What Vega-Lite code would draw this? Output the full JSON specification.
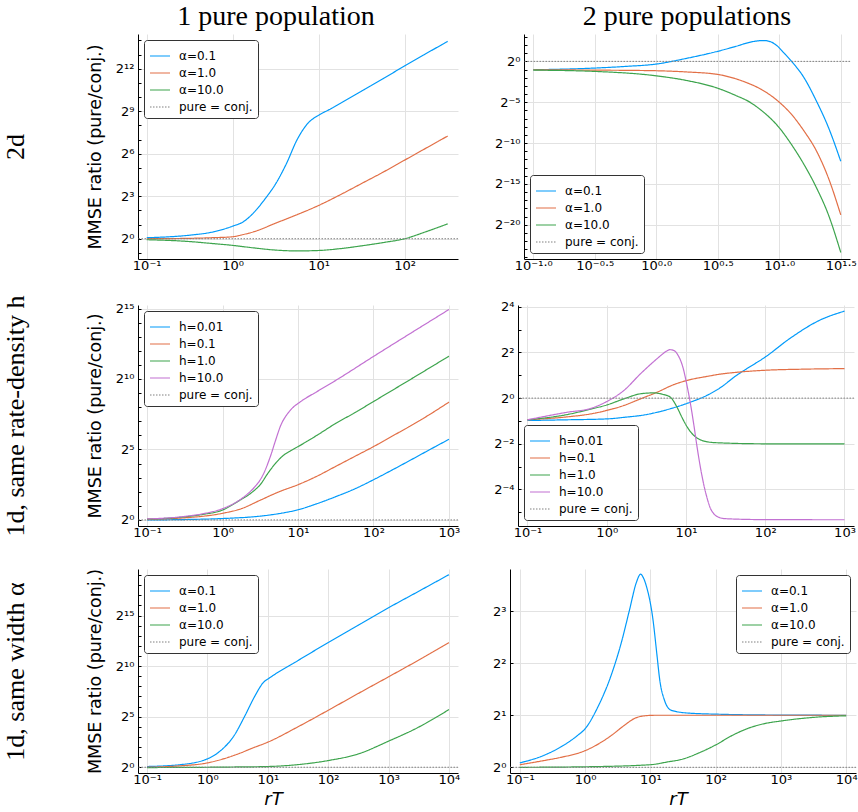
{
 "$schema": "https://vega.github.io/schema/vega-lite/v6.json",
 "background": "white",
 "padding": {"left": 2, "top": 3, "right": 0, "bottom": 0},
 "config": {
  "view": {"stroke": null},
  "axis": {"domainColor": "#000", "domainWidth": 1, "ticks": false, "labelFont": "DejaVu Sans", "labelFontSize": 13, "labelColor": "#000", "labelPadding": 4, "labelFlush": false, "labelOverlap": false, "gridColor": "#e2e2e2", "gridWidth": 1, "titleFont": "DejaVu Sans", "titleFontWeight": "normal", "titleColor": "#000"},
  "axisX": {"labelPadding": 0},
  "legend": {"symbolType": "stroke", "symbolSize": 400, "symbolStrokeWidth": 1.5, "labelFont": "DejaVu Sans", "labelFontSize": 12, "labelColor": "#000", "strokeColor": "#333", "fillColor": "#fff", "padding": 5, "cornerRadius": 3, "offset": 6, "rowPadding": -11, "labelOffset": 8},
  "title": {"font": "Liberation Serif", "fontSize": 28, "fontWeight": "normal", "color": "#000", "offset": 3},
  "line": {"strokeWidth": 1.2, "interpolate": "monotone"}
 },
 "spacing": 22,
 "resolve": {"scale": {"color": "independent", "strokeDash": "independent"}, "legend": {"color": "independent", "strokeDash": "independent"}},
 "vconcat": [
  {
   "spacing": 31,
   "resolve": {"scale": {"color": "independent", "strokeDash": "independent"}, "legend": {"color": "independent", "strokeDash": "independent"}},
   "hconcat": [
    {
     "name": "p1",
     "width": 320, "height": 225,
     "title": {"text": "1 pure population", "frame": "group", "dx": -22},
     "resolve": {"axis": {"y": "independent"}},
     "layer": [
      {
       "data": {"values": [
        {"s":"α=0.1","x":0.1,"y":1.05},{"s":"α=0.1","x":0.3162,"y":1.19},{"s":"α=0.1","x":0.5623,"y":1.37},{"s":"α=0.1","x":1,"y":1.85},{"s":"α=0.1","x":1.334,"y":2.30},{"s":"α=0.1","x":1.778,"y":3.66},{"s":"α=0.1","x":2.371,"y":6.96},{"s":"α=0.1","x":3.162,"y":14.7},{"s":"α=0.1","x":4.217,"y":39.4},{"s":"α=0.1","x":5.623,"y":128},{"s":"α=0.1","x":7.499,"y":284},{"s":"α=0.1","x":10,"y":422},{"s":"α=0.1","x":13.34,"y":557},{"s":"α=0.1","x":17.78,"y":750},{"s":"α=0.1","x":31.62,"y":1370},{"s":"α=0.1","x":56.23,"y":2521},{"s":"α=0.1","x":100,"y":4706},{"s":"α=0.1","x":177.8,"y":8602},{"s":"α=0.1","x":316.2,"y":15606},
        {"s":"α=1.0","x":0.1,"y":1.0},{"s":"α=1.0","x":0.3162,"y":1.02},{"s":"α=1.0","x":0.5623,"y":1.05},{"s":"α=1.0","x":1,"y":1.102},{"s":"α=1.0","x":1.334,"y":1.231},{"s":"α=1.0","x":1.778,"y":1.414},{"s":"α=1.0","x":3.162,"y":2.144},{"s":"α=1.0","x":5.623,"y":3.249},{"s":"α=1.0","x":10,"y":5.10},{"s":"α=1.0","x":17.78,"y":8.57},{"s":"α=1.0","x":31.62,"y":14.93},{"s":"α=1.0","x":56.23,"y":26.0},{"s":"α=1.0","x":100,"y":46.85},{"s":"α=1.0","x":177.8,"y":84.4},{"s":"α=1.0","x":316.2,"y":152.2},
        {"s":"α=10.0","x":0.1,"y":0.953},{"s":"α=10.0","x":0.3162,"y":0.871},{"s":"α=10.0","x":0.5623,"y":0.795},{"s":"α=10.0","x":1,"y":0.722},{"s":"α=10.0","x":1.778,"y":0.637},{"s":"α=10.0","x":3.162,"y":0.574},{"s":"α=10.0","x":5.623,"y":0.551},{"s":"α=10.0","x":10,"y":0.563},{"s":"α=10.0","x":17.78,"y":0.616},{"s":"α=10.0","x":31.62,"y":0.707},{"s":"α=10.0","x":56.23,"y":0.829},{"s":"α=10.0","x":100,"y":1.0},{"s":"α=10.0","x":177.8,"y":1.414},{"s":"α=10.0","x":316.2,"y":2.07}
       ]},
       "mark": "line",
       "encoding": {
        "x": {"field": "x", "type": "quantitative", "scale": {"type": "log", "base": 10, "domain": [0.0793, 416.9], "nice": false}, "axis": {"title": null, "values": [0.1, 1, 10, 100], "labelExpr": "'10'+replace(replace(replace(replace(replace(replace(replace(replace(replace(replace(replace(replace(format(round(log(datum.value)/LN10),'d'),regexp('[-−]','g'),'⁻'),regexp('0','g'),'⁰'),regexp('1','g'),'¹'),regexp('2','g'),'²'),regexp('3','g'),'³'),regexp('4','g'),'⁴'),regexp('5','g'),'⁵'),regexp('6','g'),'⁶'),regexp('7','g'),'⁷'),regexp('8','g'),'⁸'),regexp('9','g'),'⁹'),regexp('[.]','g'),'·')"}},
        "y": {"field": "y", "type": "quantitative", "scale": {"type": "log", "base": 2, "domain": [0.371, 22381], "nice": false}, "axis": {"orient": "left", "title": "MMSE ratio (pure/conj.)", "titleFontSize": 17.5, "titlePadding": 11, "values": [1, 8, 64, 512, 4096], "labelExpr": "'2'+replace(replace(replace(replace(replace(replace(replace(replace(replace(replace(replace(replace(format(round(log(datum.value)/LN2),'d'),regexp('[-−]','g'),'⁻'),regexp('0','g'),'⁰'),regexp('1','g'),'¹'),regexp('2','g'),'²'),regexp('3','g'),'³'),regexp('4','g'),'⁴'),regexp('5','g'),'⁵'),regexp('6','g'),'⁶'),regexp('7','g'),'⁷'),regexp('8','g'),'⁸'),regexp('9','g'),'⁹'),regexp('[.]','g'),'·')"}},
        "color": {"field": "s", "type": "nominal", "scale": {"domain": ["α=0.1", "α=1.0", "α=10.0", "pure = conj."], "range": ["#009afa", "#e26f46", "#3da44d", "#808080"]}, "legend": {"title": null, "orient": "top-left"}},
        "strokeDash": {"field": "s", "type": "nominal", "scale": {"domain": ["α=0.1", "α=1.0", "α=10.0", "pure = conj."], "range": [[1, 0], [1, 0], [1, 0], [1.5, 1.5]]}, "legend": {"title": null, "orient": "top-left"}}
       }
      },
      {
       "data": {"values": [{"s": "pure = conj.", "y": 1}]},
       "mark": {"type": "rule", "strokeWidth": 1},
       "encoding": {"y": {"field": "y", "type": "quantitative", "axis": {"orient": "left", "title": "2d", "titleFont": "Liberation Serif", "titleFontSize": 26, "titleFontWeight": "normal", "titlePadding": 109, "minExtent": 0, "labels": false, "ticks": true, "tickSize": -3, "tickColor": "#000", "values": [0.5, 1, 2, 4, 8, 16, 32, 64, 128, 256, 512, 1024, 2048, 4096, 8192, 16384], "domain": false, "grid": false}}, "color": {"field": "s", "type": "nominal"}, "strokeDash": {"field": "s", "type": "nominal"}}
      }
     ]
    },
    {
     "name": "p2",
     "width": 326, "height": 225,
     "title": {"text": "2 pure populations"},
     "resolve": {"axis": {"y": "independent"}},
     "layer": [
      {
       "data": {"values": [
        {"s":"α=0.1","x":0.1,"y":0.490},{"s":"α=0.1","x":0.3162,"y":0.566},{"s":"α=0.1","x":0.5623,"y":0.651},{"s":"α=0.1","x":1,"y":0.796},{"s":"α=0.1","x":1.778,"y":1.301},{"s":"α=0.1","x":3.162,"y":2.35},{"s":"α=0.1","x":4.467,"y":3.61},{"s":"α=0.1","x":5.623,"y":4.92},{"s":"α=0.1","x":6.607,"y":5.66},{"s":"α=0.1","x":7.499,"y":5.86},{"s":"α=0.1","x":8.511,"y":5.28},{"s":"α=0.1","x":9.550,"y":3.81},{"s":"α=0.1","x":10.96,"y":2.0},{"s":"α=0.1","x":12.59,"y":1.0},{"s":"α=0.1","x":15.85,"y":0.255},{"s":"α=0.1","x":19.95,"y":0.0359},{"s":"α=0.1","x":25.12,"y":0.00364},{"s":"α=0.1","x":31.62,"y":0.000207},
        {"s":"α=1.0","x":0.1,"y":0.490},{"s":"α=1.0","x":0.3162,"y":0.476},{"s":"α=1.0","x":1,"y":0.451},{"s":"α=1.0","x":1.778,"y":0.406},{"s":"α=1.0","x":3.162,"y":0.330},{"s":"α=1.0","x":4.467,"y":0.225},{"s":"α=1.0","x":5.623,"y":0.154},{"s":"α=1.0","x":7.079,"y":0.0947},{"s":"α=1.0","x":10,"y":0.03125},{"s":"α=1.0","x":12.59,"y":0.01105},{"s":"α=1.0","x":15.85,"y":0.00276},{"s":"α=1.0","x":19.95,"y":0.000523},{"s":"α=1.0","x":25.12,"y":0.0000496},{"s":"α=1.0","x":31.62,"y":0.00000219},
        {"s":"α=10.0","x":0.1,"y":0.476},{"s":"α=10.0","x":0.3162,"y":0.426},{"s":"α=10.0","x":1,"y":0.293},{"s":"α=10.0","x":1.778,"y":0.196},{"s":"α=10.0","x":3.162,"y":0.102},{"s":"α=10.0","x":4.467,"y":0.0544},{"s":"α=10.0","x":5.623,"y":0.0335},{"s":"α=10.0","x":7.079,"y":0.01617},{"s":"α=10.0","x":10,"y":0.00357},{"s":"α=10.0","x":12.59,"y":0.00085},{"s":"α=10.0","x":15.85,"y":0.000161},{"s":"α=10.0","x":19.95,"y":0.0000231},{"s":"α=10.0","x":25.12,"y":0.00000219},{"s":"α=10.0","x":31.62,"y":0.0000000903}
       ]},
       "mark": "line",
       "encoding": {
        "x": {"field": "x", "type": "quantitative", "scale": {"type": "log", "base": 10, "domain": [0.0841, 37.58], "nice": false}, "axis": {"title": null, "values": [0.1, 0.31622776601683794, 1, 3.1622776601683795, 10, 31.622776601683793], "labelExpr": "'10'+replace(replace(replace(replace(replace(replace(replace(replace(replace(replace(replace(replace(format(round(log(datum.value)/LN10*10)/10,'.1f'),regexp('[-−]','g'),'⁻'),regexp('0','g'),'⁰'),regexp('1','g'),'¹'),regexp('2','g'),'²'),regexp('3','g'),'³'),regexp('4','g'),'⁴'),regexp('5','g'),'⁵'),regexp('6','g'),'⁶'),regexp('7','g'),'⁷'),regexp('8','g'),'⁸'),regexp('9','g'),'⁹'),regexp('[.]','g'),'·')"}},
        "y": {"field": "y", "type": "quantitative", "scale": {"type": "log", "base": 2, "domain": [5.19e-8, 10.2], "nice": false}, "axis": {"orient": "left", "title": null, "minExtent": 34, "values": [1, 0.03125, 0.0009765625, 3.0517578125e-05, 9.5367431640625e-07], "labelExpr": "'2'+replace(replace(replace(replace(replace(replace(replace(replace(replace(replace(replace(replace(format(round(log(datum.value)/LN2),'d'),regexp('[-−]','g'),'⁻'),regexp('0','g'),'⁰'),regexp('1','g'),'¹'),regexp('2','g'),'²'),regexp('3','g'),'³'),regexp('4','g'),'⁴'),regexp('5','g'),'⁵'),regexp('6','g'),'⁶'),regexp('7','g'),'⁷'),regexp('8','g'),'⁸'),regexp('9','g'),'⁹'),regexp('[.]','g'),'·')"}},
        "color": {"field": "s", "type": "nominal", "scale": {"domain": ["α=0.1", "α=1.0", "α=10.0", "pure = conj."], "range": ["#009afa", "#e26f46", "#3da44d", "#808080"]}, "legend": {"title": null, "orient": "bottom-left"}},
        "strokeDash": {"field": "s", "type": "nominal", "scale": {"domain": ["α=0.1", "α=1.0", "α=10.0", "pure = conj."], "range": [[1, 0], [1, 0], [1, 0], [1.5, 1.5]]}, "legend": {"title": null, "orient": "bottom-left"}}
       }
      },
      {
       "data": {"values": [{"s": "pure = conj.", "y": 1}]},
       "mark": {"type": "rule", "strokeWidth": 1},
       "encoding": {"y": {"field": "y", "type": "quantitative", "axis": {"orient": "left", "title": null, "minExtent": 0, "labels": false, "ticks": true, "tickSize": -3, "tickColor": "#000", "values": [5.9604644775390625e-8, 1.1920928955078125e-7, 2.384185791015625e-7, 4.76837158203125e-7, 9.5367431640625e-7, 1.9073486328125e-6, 3.814697265625e-6, 7.62939453125e-6, 1.52587890625e-5, 3.0517578125e-5, 6.103515625e-5, 0.0001220703125, 0.000244140625, 0.00048828125, 0.0009765625, 0.001953125, 0.00390625, 0.0078125, 0.015625, 0.03125, 0.0625, 0.125, 0.25, 0.5, 1, 2, 4, 8], "domain": false, "grid": false}}, "color": {"field": "s", "type": "nominal"}, "strokeDash": {"field": "s", "type": "nominal"}}
      }
     ]
    }
   ]
  },
  {
   "spacing": 29,
   "resolve": {"scale": {"color": "independent", "strokeDash": "independent"}, "legend": {"color": "independent", "strokeDash": "independent"}},
   "vconcat": [
    {
     "spacing": 24,
     "resolve": {"scale": {"color": "independent", "strokeDash": "independent"}, "legend": {"color": "independent", "strokeDash": "independent"}},
     "hconcat": [
      {
       "name": "p3",
       "width": 320, "height": 221,
       "resolve": {"axis": {"y": "independent"}},
       "layer": [
        {
         "data": {"values": [
          {"s":"h=0.01","x":0.1,"y":1.0},{"s":"h=0.01","x":0.3162,"y":1.02},{"s":"h=0.01","x":1,"y":1.072},{"s":"h=0.01","x":3.162,"y":1.206},{"s":"h=0.01","x":5.623,"y":1.366},{"s":"h=0.01","x":10,"y":1.647},{"s":"h=0.01","x":17.78,"y":2.22},{"s":"h=0.01","x":31.62,"y":3.14},{"s":"h=0.01","x":56.23,"y":4.59},{"s":"h=0.01","x":100,"y":7.21},{"s":"h=0.01","x":177.8,"y":11.71},{"s":"h=0.01","x":316.2,"y":19.29},{"s":"h=0.01","x":562.3,"y":32},{"s":"h=0.01","x":1000,"y":52.7},
          {"s":"h=0.1","x":0.1,"y":1.035},{"s":"h=0.1","x":0.3162,"y":1.110},{"s":"h=0.1","x":1,"y":1.385},{"s":"h=0.1","x":1.778,"y":1.741},{"s":"h=0.1","x":3.162,"y":2.639},{"s":"h=0.1","x":5.623,"y":4},{"s":"h=0.1","x":10,"y":5.657},{"s":"h=0.1","x":17.78,"y":8.574},{"s":"h=0.1","x":31.62,"y":13.93},{"s":"h=0.1","x":56.23,"y":22.63},{"s":"h=0.1","x":100,"y":36.76},{"s":"h=0.1","x":177.8,"y":61.8},{"s":"h=0.1","x":316.2,"y":104},{"s":"h=0.1","x":562.3,"y":181},{"s":"h=0.1","x":1000,"y":328.5},
          {"s":"h=1.0","x":0.1,"y":1.035},{"s":"h=1.0","x":0.3162,"y":1.165},{"s":"h=1.0","x":0.5623,"y":1.320},{"s":"h=1.0","x":1,"y":1.625},{"s":"h=1.0","x":1.585,"y":2.462},{"s":"h=1.0","x":2.512,"y":4},{"s":"h=1.0","x":3.162,"y":5.657},{"s":"h=1.0","x":3.981,"y":9.85},{"s":"h=1.0","x":5.012,"y":16},{"s":"h=1.0","x":6.310,"y":23.4},{"s":"h=1.0","x":7.943,"y":29.86},{"s":"h=1.0","x":10,"y":36.76},{"s":"h=1.0","x":17.78,"y":64},{"s":"h=1.0","x":31.62,"y":115.4},{"s":"h=1.0","x":56.23,"y":194},{"s":"h=1.0","x":100,"y":337.8},{"s":"h=1.0","x":316.2,"y":1024},{"s":"h=1.0","x":1000,"y":3147},
          {"s":"h=10.0","x":0.1,"y":1.05},{"s":"h=10.0","x":0.3162,"y":1.189},{"s":"h=10.0","x":0.5623,"y":1.366},{"s":"h=10.0","x":1,"y":1.741},{"s":"h=10.0","x":1.778,"y":2.828},{"s":"h=10.0","x":2.63,"y":4.925},{"s":"h=10.0","x":3.162,"y":7.21},{"s":"h=10.0","x":3.548,"y":10.2},{"s":"h=10.0","x":3.981,"y":16},{"s":"h=10.0","x":4.406,"y":25.28},{"s":"h=10.0","x":5.012,"y":48.5},{"s":"h=10.0","x":5.984,"y":109.9},{"s":"h=10.0","x":7.079,"y":174.9},{"s":"h=10.0","x":8.128,"y":230.7},{"s":"h=10.0","x":11.07,"y":344.9},{"s":"h=10.0","x":17.78,"y":548.7},{"s":"h=10.0","x":31.62,"y":955.4},{"s":"h=10.0","x":100,"y":3104},{"s":"h=10.0","x":316.2,"y":9876},{"s":"h=10.0","x":1000,"y":31210}
         ]},
         "mark": "line",
         "encoding": {
          "x": {"field": "x", "type": "quantitative", "scale": {"type": "log", "base": 10, "domain": [0.0759, 1318], "nice": false}, "axis": {"title": null, "values": [0.1, 1, 10, 100, 1000], "labelExpr": "'10'+replace(replace(replace(replace(replace(replace(replace(replace(replace(replace(replace(replace(format(round(log(datum.value)/LN10),'d'),regexp('[-−]','g'),'⁻'),regexp('0','g'),'⁰'),regexp('1','g'),'¹'),regexp('2','g'),'²'),regexp('3','g'),'³'),regexp('4','g'),'⁴'),regexp('5','g'),'⁵'),regexp('6','g'),'⁶'),regexp('7','g'),'⁷'),regexp('8','g'),'⁸'),regexp('9','g'),'⁹'),regexp('[.]','g'),'·')"}},
          "y": {"field": "y", "type": "quantitative", "scale": {"type": "log", "base": 2, "domain": [0.742, 38968], "nice": false}, "axis": {"orient": "left", "title": "MMSE ratio (pure/conj.)", "titleFontSize": 17.5, "titlePadding": 11, "values": [1, 32, 1024, 32768], "labelExpr": "'2'+replace(replace(replace(replace(replace(replace(replace(replace(replace(replace(replace(replace(format(round(log(datum.value)/LN2),'d'),regexp('[-−]','g'),'⁻'),regexp('0','g'),'⁰'),regexp('1','g'),'¹'),regexp('2','g'),'²'),regexp('3','g'),'³'),regexp('4','g'),'⁴'),regexp('5','g'),'⁵'),regexp('6','g'),'⁶'),regexp('7','g'),'⁷'),regexp('8','g'),'⁸'),regexp('9','g'),'⁹'),regexp('[.]','g'),'·')"}},
          "color": {"field": "s", "type": "nominal", "scale": {"domain": ["h=0.01", "h=0.1", "h=1.0", "h=10.0", "pure = conj."], "range": ["#009afa", "#e26f46", "#3da44d", "#c271d2", "#808080"]}, "legend": {"title": null, "orient": "top-left"}},
          "strokeDash": {"field": "s", "type": "nominal", "scale": {"domain": ["h=0.01", "h=0.1", "h=1.0", "h=10.0", "pure = conj."], "range": [[1, 0], [1, 0], [1, 0], [1, 0], [1.5, 1.5]]}, "legend": {"title": null, "orient": "top-left"}}
         }
        },
        {
         "data": {"values": [{"s": "pure = conj.", "y": 1}]},
         "mark": {"type": "rule", "strokeWidth": 1},
         "encoding": {"y": {"field": "y", "type": "quantitative", "axis": {"orient": "left", "title": "1d, same rate-density h", "titleFont": "Liberation Serif", "titleFontSize": 26, "titleFontWeight": "normal", "titlePadding": 109, "minExtent": 0, "labels": false, "ticks": true, "tickSize": -3, "tickColor": "#000", "values": [1, 2, 4, 8, 16, 32, 64, 128, 256, 512, 1024, 2048, 4096, 8192, 16384, 32768], "domain": false, "grid": false}}, "color": {"field": "s", "type": "nominal"}, "strokeDash": {"field": "s", "type": "nominal"}}
        }
       ]
      },
      {
       "name": "p4",
       "width": 336, "height": 221,
       "resolve": {"axis": {"y": "independent"}},
       "layer": [
        {
         "data": {"values": [
          {"s":"h=0.01","x":0.1,"y":0.507},{"s":"h=0.01","x":0.3162,"y":0.518},{"s":"h=0.01","x":1,"y":0.532},{"s":"h=0.01","x":1.652,"y":0.558},{"s":"h=0.01","x":3.162,"y":0.607},{"s":"h=0.01","x":4.325,"y":0.651},{"s":"h=0.01","x":7.0,"y":0.747},{"s":"h=0.01","x":11.32,"y":0.883},{"s":"h=0.01","x":18.37,"y":1.087},{"s":"h=0.01","x":26.92,"y":1.366},{"s":"h=0.01","x":43.55,"y":2.0},{"s":"h=0.01","x":56.23,"y":2.38},{"s":"h=0.01","x":100,"y":3.48},{"s":"h=0.01","x":203.7,"y":6.10},{"s":"h=0.01","x":485.3,"y":10.63},{"s":"h=0.01","x":1000,"y":14.03},
          {"s":"h=0.1","x":0.1,"y":0.518},{"s":"h=0.1","x":0.3162,"y":0.566},{"s":"h=0.1","x":0.631,"y":0.620},{"s":"h=0.1","x":1,"y":0.688},{"s":"h=0.1","x":1.652,"y":0.801},{"s":"h=0.1","x":2.673,"y":0.979},{"s":"h=0.1","x":4.325,"y":1.197},{"s":"h=0.1","x":7.0,"y":1.505},{"s":"h=0.1","x":11.32,"y":1.753},{"s":"h=0.1","x":18.37,"y":1.932},{"s":"h=0.1","x":26.92,"y":2.07},{"s":"h=0.1","x":43.55,"y":2.19},{"s":"h=0.1","x":100,"y":2.33},{"s":"h=0.1","x":316.2,"y":2.41},{"s":"h=0.1","x":1000,"y":2.45},
          {"s":"h=1.0","x":0.1,"y":0.518},{"s":"h=1.0","x":0.3162,"y":0.607},{"s":"h=1.0","x":0.631,"y":0.717},{"s":"h=1.0","x":1,"y":0.812},{"s":"h=1.0","x":1.652,"y":0.979},{"s":"h=1.0","x":2.673,"y":1.141},{"s":"h=1.0","x":3.926,"y":1.173},{"s":"h=1.0","x":5.012,"y":1.125},{"s":"h=1.0","x":6.31,"y":1.035},{"s":"h=1.0","x":7.709,"y":0.758},{"s":"h=1.0","x":8.913,"y":0.555},{"s":"h=1.0","x":10.30,"y":0.420},{"s":"h=1.0","x":13.74,"y":0.299},{"s":"h=1.0","x":20.18,"y":0.262},{"s":"h=1.0","x":26.92,"y":0.257},{"s":"h=1.0","x":100,"y":0.25},{"s":"h=1.0","x":1000,"y":0.25},
          {"s":"h=10.0","x":0.1,"y":0.518},{"s":"h=10.0","x":0.3162,"y":0.651},{"s":"h=10.0","x":0.631,"y":0.732},{"s":"h=10.0","x":1,"y":0.901},{"s":"h=10.0","x":1.652,"y":1.266},{"s":"h=10.0","x":2.673,"y":2.10},{"s":"h=10.0","x":4.325,"y":3.32},{"s":"h=10.0","x":5.012,"y":3.78},{"s":"h=10.0","x":5.623,"y":4.14},{"s":"h=10.0","x":6.237,"y":4.35},{"s":"h=10.0","x":7.079,"y":4.23},{"s":"h=10.0","x":7.709,"y":3.86},{"s":"h=10.0","x":9.354,"y":2.33},{"s":"h=10.0","x":10.30,"y":1.464},{"s":"h=10.0","x":11.32,"y":0.871},{"s":"h=10.0","x":12.47,"y":0.4665},{"s":"h=10.0","x":13.74,"y":0.2333},{"s":"h=10.0","x":15.14,"y":0.125},{"s":"h=10.0","x":16.67,"y":0.0743},{"s":"h=10.0","x":18.37,"y":0.0490},{"s":"h=10.0","x":20.18,"y":0.0359},{"s":"h=10.0","x":22.23,"y":0.0302},{"s":"h=10.0","x":24.49,"y":0.0276},{"s":"h=10.0","x":31.62,"y":0.0257},{"s":"h=10.0","x":100,"y":0.0250},{"s":"h=10.0","x":1000,"y":0.0249}
         ]},
         "mark": "line",
         "encoding": {
          "x": {"field": "x", "type": "quantitative", "scale": {"type": "log", "base": 10, "domain": [0.0759, 1318], "nice": false}, "axis": {"title": null, "values": [0.1, 1, 10, 100, 1000], "labelExpr": "'10'+replace(replace(replace(replace(replace(replace(replace(replace(replace(replace(replace(replace(format(round(log(datum.value)/LN10),'d'),regexp('[-−]','g'),'⁻'),regexp('0','g'),'⁰'),regexp('1','g'),'¹'),regexp('2','g'),'²'),regexp('3','g'),'³'),regexp('4','g'),'⁴'),regexp('5','g'),'⁵'),regexp('6','g'),'⁶'),regexp('7','g'),'⁷'),regexp('8','g'),'⁸'),regexp('9','g'),'⁹'),regexp('[.]','g'),'·')"}},
          "y": {"field": "y", "type": "quantitative", "scale": {"type": "log", "base": 2, "domain": [0.0206, 16.9], "nice": false}, "axis": {"orient": "left", "title": null, "minExtent": 34, "values": [16, 4, 1, 0.25, 0.0625], "labelExpr": "'2'+replace(replace(replace(replace(replace(replace(replace(replace(replace(replace(replace(replace(format(round(log(datum.value)/LN2),'d'),regexp('[-−]','g'),'⁻'),regexp('0','g'),'⁰'),regexp('1','g'),'¹'),regexp('2','g'),'²'),regexp('3','g'),'³'),regexp('4','g'),'⁴'),regexp('5','g'),'⁵'),regexp('6','g'),'⁶'),regexp('7','g'),'⁷'),regexp('8','g'),'⁸'),regexp('9','g'),'⁹'),regexp('[.]','g'),'·')"}},
          "color": {"field": "s", "type": "nominal", "scale": {"domain": ["h=0.01", "h=0.1", "h=1.0", "h=10.0", "pure = conj."], "range": ["#009afa", "#e26f46", "#3da44d", "#c271d2", "#808080"]}, "legend": {"title": null, "orient": "bottom-left"}},
          "strokeDash": {"field": "s", "type": "nominal", "scale": {"domain": ["h=0.01", "h=0.1", "h=1.0", "h=10.0", "pure = conj."], "range": [[1, 0], [1, 0], [1, 0], [1, 0], [1.5, 1.5]]}, "legend": {"title": null, "orient": "bottom-left"}}
         }
        },
        {
         "data": {"values": [{"s": "pure = conj.", "y": 1}]},
         "mark": {"type": "rule", "strokeWidth": 1},
         "encoding": {"y": {"field": "y", "type": "quantitative", "axis": {"orient": "left", "title": null, "minExtent": 0, "labels": false, "ticks": true, "tickSize": -3, "tickColor": "#000", "values": [0.03125, 0.0625, 0.125, 0.25, 0.5, 1, 2, 4, 8, 16], "domain": false, "grid": false}}, "color": {"field": "s", "type": "nominal"}, "strokeDash": {"field": "s", "type": "nominal"}}
        }
       ]
      }
     ]
    },
    {
     "spacing": 16,
     "resolve": {"scale": {"color": "independent", "strokeDash": "independent"}, "legend": {"color": "independent", "strokeDash": "independent"}},
     "hconcat": [
      {
       "name": "p5",
       "width": 320, "height": 204,
       "resolve": {"axis": {"y": "independent"}},
       "layer": [
        {
         "data": {"values": [
          {"s":"α=0.1","x":0.1,"y":1.05},{"s":"α=0.1","x":0.36,"y":1.197},{"s":"α=0.1","x":1,"y":1.778},{"s":"α=0.1","x":1.667,"y":3.16},{"s":"α=0.1","x":2.78,"y":8.88},{"s":"α=0.1","x":4.08,"y":31.3},{"s":"α=0.1","x":6.0,"y":124},{"s":"α=0.1","x":8.26,"y":318},{"s":"α=0.1","x":11.38,"y":491},{"s":"α=0.1","x":31.62,"y":1499},{"s":"α=0.1","x":100,"y":5149},{"s":"α=0.1","x":316.2,"y":16960},{"s":"α=0.1","x":1000,"y":55870},{"s":"α=0.1","x":3162,"y":173000},{"s":"α=0.1","x":10000,"y":539000},
          {"s":"α=1.0","x":0.1,"y":1.0},{"s":"α=1.0","x":0.3162,"y":1.087},{"s":"α=1.0","x":1,"y":1.347},{"s":"α=1.0","x":3.162,"y":2.462},{"s":"α=1.0","x":5.623,"y":3.732},{"s":"α=1.0","x":10,"y":5.58},{"s":"α=1.0","x":31.62,"y":16},{"s":"α=1.0","x":100,"y":49.5},{"s":"α=1.0","x":316.2,"y":157.6},{"s":"α=1.0","x":1000,"y":491},{"s":"α=1.0","x":3162,"y":1552},{"s":"α=1.0","x":10000,"y":5113},
          {"s":"α=10.0","x":0.1,"y":0.979},{"s":"α=10.0","x":0.3162,"y":0.986},{"s":"α=10.0","x":1,"y":1.0},{"s":"α=10.0","x":3.162,"y":1.021},{"s":"α=10.0","x":10,"y":1.05},{"s":"α=10.0","x":31.62,"y":1.197},{"s":"α=10.0","x":100,"y":1.58},{"s":"α=10.0","x":316.2,"y":2.497},{"s":"α=10.0","x":1000,"y":5.98},{"s":"α=10.0","x":3162,"y":15.67},{"s":"α=10.0","x":10000,"y":52.0}
         ]},
         "mark": "line",
         "encoding": {
          "x": {"field": "x", "type": "quantitative", "scale": {"type": "log", "base": 10, "domain": [0.0708, 14125], "nice": false}, "axis": {"title": "rT", "titleFontStyle": "italic", "titleFontSize": 18, "titlePadding": 4, "titleX": 135, "values": [0.1, 1, 10, 100, 1000, 10000], "labelExpr": "'10'+replace(replace(replace(replace(replace(replace(replace(replace(replace(replace(replace(replace(format(round(log(datum.value)/LN10),'d'),regexp('[-−]','g'),'⁻'),regexp('0','g'),'⁰'),regexp('1','g'),'¹'),regexp('2','g'),'²'),regexp('3','g'),'³'),regexp('4','g'),'⁴'),regexp('5','g'),'⁵'),regexp('6','g'),'⁶'),regexp('7','g'),'⁷'),regexp('8','g'),'⁸'),regexp('9','g'),'⁹'),regexp('[.]','g'),'·')"}},
          "y": {"field": "y", "type": "quantitative", "scale": {"type": "log", "base": 2, "domain": [0.674, 794800], "nice": false}, "axis": {"orient": "left", "title": "MMSE ratio (pure/conj.)", "titleFontSize": 17.5, "titlePadding": 11, "values": [1, 32, 1024, 32768], "labelExpr": "'2'+replace(replace(replace(replace(replace(replace(replace(replace(replace(replace(replace(replace(format(round(log(datum.value)/LN2),'d'),regexp('[-−]','g'),'⁻'),regexp('0','g'),'⁰'),regexp('1','g'),'¹'),regexp('2','g'),'²'),regexp('3','g'),'³'),regexp('4','g'),'⁴'),regexp('5','g'),'⁵'),regexp('6','g'),'⁶'),regexp('7','g'),'⁷'),regexp('8','g'),'⁸'),regexp('9','g'),'⁹'),regexp('[.]','g'),'·')"}},
          "color": {"field": "s", "type": "nominal", "scale": {"domain": ["α=0.1", "α=1.0", "α=10.0", "pure = conj."], "range": ["#009afa", "#e26f46", "#3da44d", "#808080"]}, "legend": {"title": null, "orient": "top-left"}},
          "strokeDash": {"field": "s", "type": "nominal", "scale": {"domain": ["α=0.1", "α=1.0", "α=10.0", "pure = conj."], "range": [[1, 0], [1, 0], [1, 0], [1.5, 1.5]]}, "legend": {"title": null, "orient": "top-left"}}
         }
        },
        {
         "data": {"values": [{"s": "pure = conj.", "y": 1}]},
         "mark": {"type": "rule", "strokeWidth": 1},
         "encoding": {"y": {"field": "y", "type": "quantitative", "axis": {"orient": "left", "title": "1d, same width α", "titleFont": "Liberation Serif", "titleFontSize": 26, "titleFontWeight": "normal", "titlePadding": 109, "minExtent": 0, "labels": false, "ticks": true, "tickSize": -3, "tickColor": "#000", "values": [1, 2, 4, 8, 16, 32, 64, 128, 256, 512, 1024, 2048, 4096, 8192, 16384, 32768, 65536, 131072, 262144, 524288], "domain": false, "grid": false}}, "color": {"field": "s", "type": "nominal"}, "strokeDash": {"field": "s", "type": "nominal"}}
        }
       ]
      },
      {
       "name": "p6",
       "width": 346, "height": 204,
       "resolve": {"axis": {"y": "independent"}},
       "layer": [
        {
         "data": {"values": [
          {"s":"α=0.1","x":0.1,"y":1.06},{"s":"α=0.1","x":0.2344,"y":1.173},{"s":"α=0.1","x":0.4227,"y":1.310},{"s":"α=0.1","x":0.762,"y":1.526},{"s":"α=0.1","x":1,"y":1.670},{"s":"α=0.1","x":1.567,"y":2.23},{"s":"α=0.1","x":2.512,"y":3.41},{"s":"α=0.1","x":3.581,"y":5.24},{"s":"α=0.1","x":4.808,"y":8.17},{"s":"α=0.1","x":6.095,"y":11.7},{"s":"α=0.1","x":7.096,"y":13.1},{"s":"α=0.1","x":7.762,"y":12.55},{"s":"α=0.1","x":8.67,"y":11.2},{"s":"α=0.1","x":10.96,"y":7.16},{"s":"α=0.1","x":12.59,"y":4.50},{"s":"α=0.1","x":13.93,"y":3.20},{"s":"α=0.1","x":16.41,"y":2.45},{"s":"α=0.1","x":20.8,"y":2.14},{"s":"α=0.1","x":37.5,"y":2.06},{"s":"α=0.1","x":100,"y":2.03},{"s":"α=0.1","x":1000,"y":2.005},{"s":"α=0.1","x":10000,"y":2.0},
          {"s":"α=1.0","x":0.1,"y":1.035},{"s":"α=1.0","x":0.2344,"y":1.094},{"s":"α=1.0","x":0.4227,"y":1.141},{"s":"α=1.0","x":1,"y":1.248},{"s":"α=1.0","x":1.762,"y":1.395},{"s":"α=1.0","x":2.512,"y":1.526},{"s":"α=1.0","x":4.027,"y":1.753},{"s":"α=1.0","x":5.741,"y":1.919},{"s":"α=1.0","x":8.185,"y":1.986},{"s":"α=1.0","x":11.75,"y":2.0},{"s":"α=1.0","x":100,"y":2.0},{"s":"α=1.0","x":10000,"y":2.0},
          {"s":"α=10.0","x":0.1,"y":1.0},{"s":"α=10.0","x":1,"y":1.007},{"s":"α=10.0","x":10,"y":1.035},{"s":"α=10.0","x":17.78,"y":1.072},{"s":"α=10.0","x":31.62,"y":1.117},{"s":"α=10.0","x":56.23,"y":1.214},{"s":"α=10.0","x":100,"y":1.347},{"s":"α=10.0","x":177.8,"y":1.526},{"s":"α=10.0","x":316.2,"y":1.682},{"s":"α=10.0","x":562.3,"y":1.790},{"s":"α=10.0","x":1000,"y":1.853},{"s":"α=10.0","x":3162,"y":1.945},{"s":"α=10.0","x":10000,"y":1.986}
         ]},
         "mark": "line",
         "encoding": {
          "x": {"field": "x", "type": "quantitative", "scale": {"type": "log", "base": 10, "domain": [0.0708, 14125], "nice": false}, "axis": {"title": "rT", "titleFontStyle": "italic", "titleFontSize": 18, "titlePadding": 4, "titleX": 168, "values": [0.1, 1, 10, 100, 1000, 10000], "labelExpr": "'10'+replace(replace(replace(replace(replace(replace(replace(replace(replace(replace(replace(replace(format(round(log(datum.value)/LN10),'d'),regexp('[-−]','g'),'⁻'),regexp('0','g'),'⁰'),regexp('1','g'),'¹'),regexp('2','g'),'²'),regexp('3','g'),'³'),regexp('4','g'),'⁴'),regexp('5','g'),'⁵'),regexp('6','g'),'⁶'),regexp('7','g'),'⁷'),regexp('8','g'),'⁸'),regexp('9','g'),'⁹'),regexp('[.]','g'),'·')"}},
          "y": {"field": "y", "type": "quantitative", "scale": {"type": "log", "base": 2, "domain": [0.927, 14.03], "nice": false}, "axis": {"orient": "left", "title": null, "minExtent": 34, "values": [1, 2, 4, 8], "labelExpr": "'2'+replace(replace(replace(replace(replace(replace(replace(replace(replace(replace(replace(replace(format(round(log(datum.value)/LN2),'d'),regexp('[-−]','g'),'⁻'),regexp('0','g'),'⁰'),regexp('1','g'),'¹'),regexp('2','g'),'²'),regexp('3','g'),'³'),regexp('4','g'),'⁴'),regexp('5','g'),'⁵'),regexp('6','g'),'⁶'),regexp('7','g'),'⁷'),regexp('8','g'),'⁸'),regexp('9','g'),'⁹'),regexp('[.]','g'),'·')"}},
          "color": {"field": "s", "type": "nominal", "scale": {"domain": ["α=0.1", "α=1.0", "α=10.0", "pure = conj."], "range": ["#009afa", "#e26f46", "#3da44d", "#808080"]}, "legend": {"title": null, "orient": "top-right"}},
          "strokeDash": {"field": "s", "type": "nominal", "scale": {"domain": ["α=0.1", "α=1.0", "α=10.0", "pure = conj."], "range": [[1, 0], [1, 0], [1, 0], [1.5, 1.5]]}, "legend": {"title": null, "orient": "top-right"}}
         }
        },
        {
         "data": {"values": [{"s": "pure = conj.", "y": 1}]},
         "mark": {"type": "rule", "strokeWidth": 1},
         "encoding": {"y": {"field": "y", "type": "quantitative", "axis": {"orient": "left", "title": null, "minExtent": 0, "labels": false, "ticks": true, "tickSize": -3, "tickColor": "#000", "values": [1, 2, 4, 8], "domain": false, "grid": false}}, "color": {"field": "s", "type": "nominal"}, "strokeDash": {"field": "s", "type": "nominal"}}
        }
       ]
      }
     ]
    }
   ]
  }
 ]
}
